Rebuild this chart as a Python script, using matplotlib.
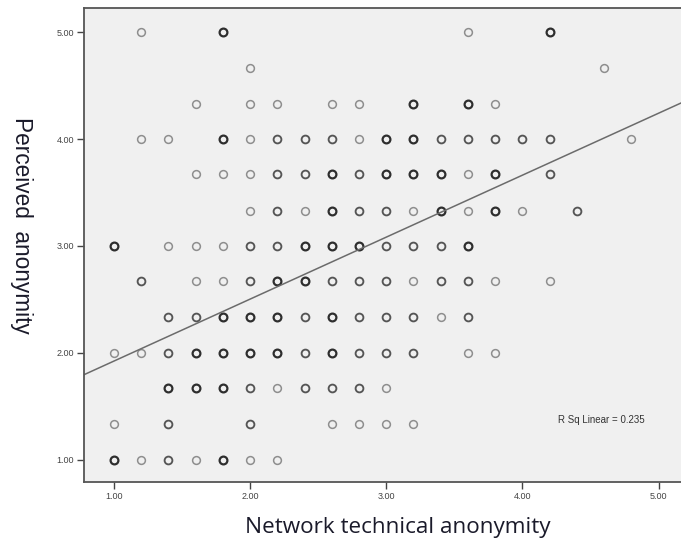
import matplotlib
matplotlib.use('Agg')
import matplotlib.pyplot as plt

# one list per row of the scatter: (x value, overlap level 1..3)
row_y = [5.00, 4.67, 4.33, 4.00, 3.67, 3.33, 3.00, 2.67, 2.33, 2.00, 1.67, 1.33, 1.00]
rows = [
    [(1.2, 1), (1.8, 3), (3.6, 1), (4.2, 3)],
    [(2.0, 1), (4.6, 1)],
    [(1.6, 1), (2.0, 1), (2.2, 1), (2.6, 1), (2.8, 1), (3.2, 3), (3.6, 3), (3.8, 1)],
    [(1.2, 1), (1.4, 1), (1.8, 3), (2.0, 1), (2.2, 2), (2.4, 2), (2.6, 2), (2.8, 1),
     (3.0, 3), (3.2, 3), (3.4, 2), (3.6, 2), (3.8, 2), (4.0, 2), (4.2, 2), (4.8, 1)],
    [(1.6, 1), (1.8, 1), (2.0, 1), (2.2, 2), (2.4, 2), (2.6, 3), (2.8, 2), (3.0, 3),
     (3.2, 3), (3.4, 3), (3.6, 1), (3.8, 3), (4.2, 2)],
    [(2.0, 1), (2.2, 2), (2.4, 1), (2.6, 3), (2.8, 2), (3.0, 2), (3.2, 1), (3.4, 3),
     (3.6, 1), (3.8, 3), (4.0, 1), (4.4, 2)],
    [(1.0, 3), (1.4, 1), (1.6, 1), (1.8, 1), (2.0, 2), (2.2, 2), (2.4, 3), (2.6, 3),
     (2.8, 3), (3.0, 2), (3.2, 2), (3.4, 2), (3.6, 3)],
    [(1.2, 2), (1.6, 1), (1.8, 1), (2.0, 2), (2.2, 3), (2.4, 3), (2.6, 2), (2.8, 2),
     (3.0, 2), (3.2, 1), (3.4, 2), (3.6, 2), (3.8, 1), (4.2, 1)],
    [(1.4, 2), (1.6, 2), (1.8, 3), (2.0, 3), (2.2, 3), (2.4, 2), (2.6, 3), (2.8, 2),
     (3.0, 2), (3.2, 2), (3.4, 1), (3.6, 2)],
    [(1.0, 1), (1.2, 1), (1.4, 2), (1.6, 3), (1.8, 3), (2.0, 3), (2.2, 3), (2.4, 2),
     (2.6, 3), (2.8, 2), (3.0, 2), (3.2, 2), (3.6, 1), (3.8, 1)],
    [(1.4, 3), (1.6, 3), (1.8, 3), (2.0, 2), (2.2, 1), (2.4, 2), (2.6, 2), (2.8, 2), (3.0, 1)],
    [(1.0, 1), (1.4, 2), (2.0, 2), (2.6, 1), (2.8, 1), (3.0, 1), (3.2, 1)],
    [(1.0, 3), (1.2, 1), (1.4, 2), (1.6, 1), (1.8, 3), (2.0, 1), (2.2, 1)],
]

# fit line
slope = 0.58
intercept = 1.342
r_sq = 0.235

ticks = [1.0, 2.0, 3.0, 4.0, 5.0]
tick_labels = ['1.00', '2.00', '3.00', '4.00', '5.00']

shade = {1: '#8e8e8e', 2: '#555555', 3: '#2e2e2e'}

fig = plt.figure(figsize=(6.81, 5.43), dpi=100)
ax = fig.add_axes([84 / 681, 1 - 482 / 543, 1 - 84 / 681, (482 - 8) / 543])
ax.set_facecolor('#f0f0f0')

for yv, pts in zip(row_y, rows):
    for xv, n in pts:
        ax.plot(xv, yv, 'o', markersize=5.6, markerfacecolor='none',
                markeredgecolor=shade[n], markeredgewidth=1.1 + 0.25 * (n - 1))

xlo, xhi = 0.78, 5.165
ylo, yhi = 0.79, 5.227
ax.plot([xlo, xhi], [intercept + slope * xlo, intercept + slope * xhi],
        color='#6b6b6b', linewidth=1.1)

ax.text(4.265, 1.37, f'R Sq Linear = {r_sq}', fontsize=7, color='#333333',
        family='Liberation Sans', va='center', ha='left')

ax.set_xlim(xlo, xhi)
ax.set_ylim(ylo, yhi)
ax.set_xticks(ticks)
ax.set_xticklabels(tick_labels)
ax.set_yticks(ticks)
ax.set_yticklabels(tick_labels)
ax.tick_params(direction='out', length=5, width=1, color='#444444',
               labelsize=6.5, labelcolor='#444444', pad=2)
for lab in ax.get_xticklabels() + ax.get_yticklabels():
    lab.set_family('Liberation Sans')

for side in ['left', 'bottom', 'top']:
    ax.spines[side].set_color('#555555')
    ax.spines[side].set_linewidth(1.3)
ax.spines['right'].set_visible(False)

fig.text(398 / 681, 1 - 527 / 543, 'Network technical anonymity', fontsize=16.2,
         family='Open Sans', color='#1a1a2a', ha='center', va='center')
fig.text(21 / 681, 1 - 225 / 543, 'Perceived  anonymity', fontsize=16.3,
         family='Liberation Sans', color='#1a1a2a', ha='center', va='center',
         rotation=270)

fig.savefig('out.png', dpi=100)
